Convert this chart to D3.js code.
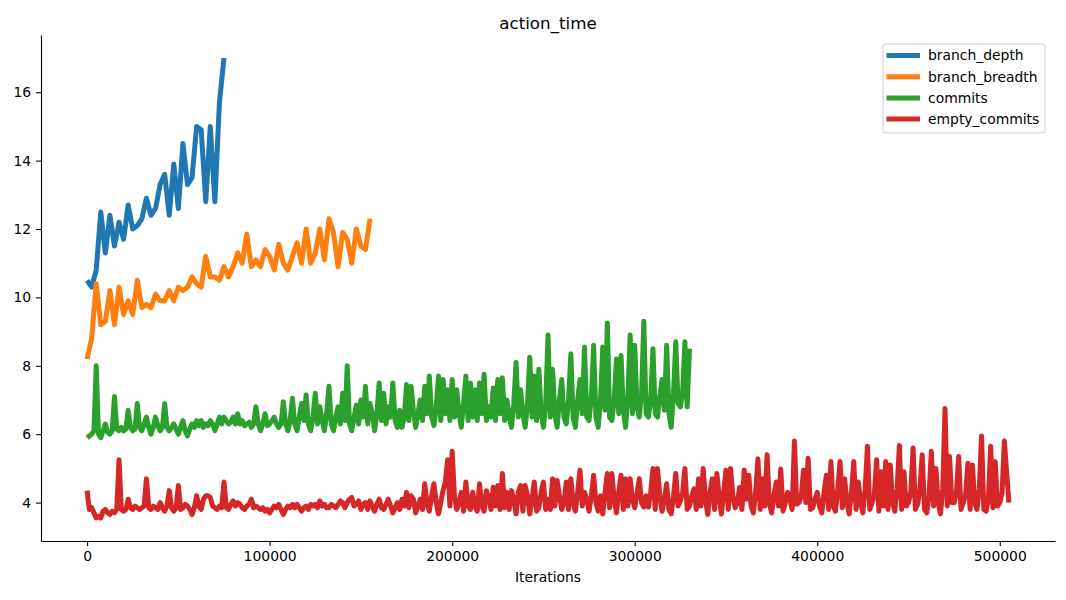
<!DOCTYPE html>
<html>
<head>
<meta charset="utf-8">
<script src="https://cdn.jsdelivr.net/npm/d3@7"></script>
<style>
  html, body { margin: 0; padding: 0; overflow: hidden; background: #fff; }
  svg { display: block; }
  text { font-family: 'DejaVu Sans', sans-serif; }
</style>
</head>
<body>
<div id="canvas"></div>
<script>
// canvas size
const height = 600;
const width = 1066;

const seriesNames = ['branch_depth', 'branch_breadth', 'commits', 'empty_commits'];
const seriesColors = ['#1f77b4', '#ff7f0e', '#2ca02c', '#d62728'];
// iterations between two logged points of each series
const seriesSteps = [2500, 2500, 1250, 1250];

const xTicks = [0, 100000, 200000, 300000, 400000, 500000];
const yTicks = [4, 6, 8, 10, 12, 14, 16];

// action_time values
const branchDepth = [
  10.5, 10.3, 10.8, 12.5, 11.3, 12.4, 11.5, 12.2, 11.7, 12.7,
  12.0, 12.1, 12.3, 12.9, 12.4, 12.6, 13.3, 13.6, 12.4, 13.9,
  12.6, 14.5, 13.3, 13.5, 15.0, 14.9, 12.8, 15.0, 12.8, 15.7,
  17.0
];

const branchBreadth = [
  8.2, 8.8, 10.4, 9.2, 9.3, 10.2, 9.2, 10.3, 9.5, 9.9,
  9.5, 10.5, 9.7, 9.8, 9.7, 10.1, 9.9, 9.9, 10.2, 9.9,
  10.3, 10.2, 10.3, 10.6, 10.4, 10.3, 11.2, 10.6, 10.6, 10.5,
  10.9, 10.6, 10.9, 11.3, 11.0, 11.85, 10.9, 11.1, 10.9, 11.4,
  11.2, 10.8, 11.55, 11.0, 10.8, 11.2, 11.6, 11.0, 12.0, 11.0,
  11.3, 12.0, 11.1, 12.3, 11.9, 10.9, 11.9, 11.7, 11.0, 12.0,
  11.5, 11.4, 12.3
];

const commits = [
  5.9, 5.95, 6.0, 6.1, 8.0, 6.0, 5.9, 6.1, 6.3, 6.05, 6.0, 6.1, 7.1, 6.15, 6.1, 6.2, 6.1, 6.15, 6.7, 6.2,
  6.1, 6.15, 6.9, 6.2, 6.1, 6.3, 6.5, 6.2, 6.0, 6.2, 6.5, 6.25, 6.1, 6.2, 6.9, 6.2, 6.1, 6.2, 6.3,
  6.15, 6.0, 6.2, 6.4, 6.1, 5.95, 6.15, 6.3, 6.2, 6.4, 6.25, 6.4, 6.2, 6.3, 6.25, 6.4, 6.3, 6.1, 6.3, 6.5,
  6.3, 6.5, 6.4, 6.3, 6.35, 6.5, 6.3, 6.6, 6.3, 6.4, 6.25, 6.3, 6.35, 6.2, 6.3, 6.8, 6.3, 6.1, 6.3, 6.6,
  6.25, 6.3, 6.4, 6.5, 6.3, 6.2, 6.3, 6.95, 6.3, 6.1, 6.4, 7.05, 6.3, 6.1, 6.5, 6.9, 6.4, 7.15, 6.3, 6.1,
  6.5, 7.2, 6.3, 6.8, 6.4, 6.1, 6.6, 7.4, 6.3, 6.1, 6.5, 6.8, 6.3, 7.2, 6.4, 8.0, 6.3, 6.1, 6.5, 6.85,
  6.3, 7.0, 6.5, 7.4, 6.3, 6.9, 6.6, 6.1, 6.6, 7.5, 6.4, 7.2, 6.3, 6.8, 6.5, 7.5, 6.4, 6.2, 6.7, 6.2,
  6.5, 7.45, 6.4, 7.4, 6.7, 6.2, 6.6, 7.0, 6.4, 7.4, 6.6, 7.7, 6.5, 6.25, 6.8, 7.7, 6.4, 7.6, 6.6, 7.3,
  6.4, 7.6, 6.5, 7.3, 6.6, 6.2, 6.9, 7.7, 6.4, 7.5, 6.5, 7.3, 6.4, 7.5, 6.6, 7.75, 6.4, 6.8, 6.5, 7.35,
  6.4, 7.6, 6.6, 7.65, 6.4, 7.0, 6.5, 6.2, 6.9, 8.1, 6.5, 7.3, 6.6, 6.2, 6.9, 8.25, 6.5, 7.7, 6.4, 7.9,
  6.6, 6.2, 6.9, 8.9, 6.5, 7.9, 6.6, 6.2, 7.0, 7.6, 6.5, 6.3, 7.0, 8.35, 6.5, 6.2, 7.0, 7.6, 6.6, 8.55,
  6.5, 6.4, 7.1, 8.6, 6.5, 6.2, 7.0, 8.55, 6.7, 9.25, 6.5, 6.4, 7.0, 8.2, 6.6, 8.3, 6.7, 6.2, 7.1, 8.9,
  6.6, 8.6, 6.8, 6.5, 7.2, 9.3, 6.6, 6.5, 7.0, 8.5, 6.6, 6.5, 7.1, 7.6, 6.7, 8.6, 6.6, 6.2, 7.2, 8.7,
  6.9, 6.8, 7.2, 8.7, 6.8, 8.5
];

const emptyCommits = [
  4.35, 3.8, 3.85, 3.7, 3.55, 3.6, 3.55, 3.75, 3.8, 3.7, 3.65, 3.75, 3.7, 3.8, 5.25, 3.8, 3.75, 3.8, 4.1, 3.85,
  3.8, 3.9, 3.85, 3.8, 3.85, 3.9, 4.7, 3.85, 3.8, 3.9, 3.85, 3.8, 4.0, 3.85, 3.75, 3.9, 4.35, 3.85, 3.75, 3.85,
  4.5, 3.8, 3.85, 3.95, 3.9, 3.8, 3.65, 3.85, 4.2, 3.9, 3.8, 4.1, 4.2, 4.2, 4.15, 3.9, 3.85, 3.8, 3.9, 3.85,
  4.6, 3.85, 3.8, 3.95, 4.05, 3.9, 4.0, 3.95, 3.85, 3.8, 3.9, 3.95, 4.1, 3.85, 3.9, 3.85, 3.8, 3.85, 3.75, 3.8,
  3.7, 3.8, 3.9, 3.85, 3.95, 3.8, 3.65, 3.8, 3.9, 3.85, 3.95, 3.85, 3.95, 3.85, 3.75, 3.85, 3.9, 3.8, 3.95, 3.9,
  3.95, 3.85, 4.05, 3.9, 3.95, 3.85, 3.85, 3.95, 3.9, 3.85, 3.95, 4.05, 4.0, 3.85, 4.0, 4.1, 4.15, 3.9, 3.95, 4.05,
  3.8, 3.95, 4.0, 3.8, 4.05, 3.9, 3.75, 3.95, 4.1, 3.85, 3.8, 3.95, 4.1, 3.9, 3.7, 3.85, 4.0, 3.8, 4.1, 3.9,
  4.3, 3.85, 4.2, 4.1, 3.7, 3.9, 4.1, 3.8, 4.55, 3.95, 3.75, 4.2, 4.55, 4.0, 3.67, 4.0, 4.35, 4.6, 5.25, 3.9,
  5.5, 4.2, 3.8, 4.0, 4.3, 3.75, 4.6, 3.9, 3.8, 4.3, 3.9, 3.75, 4.55, 3.9, 3.75, 4.35, 4.15, 3.8, 4.45, 3.9,
  4.5, 3.8, 4.85, 3.85, 4.3, 3.8, 4.35, 4.1, 3.67, 4.3, 4.5, 3.75, 4.5, 4.2, 3.67, 4.1, 4.6, 3.75, 3.85, 4.3,
  4.6, 3.8, 4.1, 3.8, 4.7, 3.9, 4.65, 4.2, 3.8, 4.0, 4.6, 3.8, 4.7, 4.0, 3.75, 4.3, 4.95, 3.9, 4.3, 4.1,
  3.75, 4.2, 4.8, 4.0, 3.75, 4.2, 3.67, 4.3, 4.85, 3.85, 4.85, 4.1, 3.7, 4.3, 4.8, 3.8, 4.7, 3.9, 4.7, 4.1,
  3.85, 4.25, 4.7, 4.0, 3.87, 4.2, 3.87, 4.3, 5.0, 3.8, 5.0, 4.2, 3.75, 4.1, 4.55, 3.8, 3.67, 4.2, 4.85, 3.9,
  4.05, 4.3, 5.0, 3.8, 3.9, 4.2, 4.4, 3.8, 4.7, 3.9, 5.0, 4.1, 3.65, 4.3, 4.7, 3.8, 4.85, 4.2, 3.67, 4.3,
  4.95, 3.8, 5.0, 4.2, 3.85, 4.0, 4.45, 3.8, 4.95, 4.1, 4.8, 3.9, 3.7, 4.3, 5.28, 3.8, 4.7, 3.9, 5.4, 4.0,
  3.7, 4.2, 4.6, 3.9, 4.98, 3.75, 4.0, 4.3, 4.1, 3.8, 5.8, 3.95, 4.0, 4.2, 4.95, 4.0, 5.3, 3.8, 3.85, 4.1,
  4.3, 3.9, 3.7, 4.3, 4.8, 3.8, 5.2, 3.9, 3.75, 4.4, 5.2, 3.85, 4.7, 4.0, 3.67, 4.3, 5.2, 3.8, 4.6, 4.0,
  3.7, 4.4, 5.65, 3.8, 4.0, 4.2, 5.25, 3.75, 4.9, 3.9, 5.2, 3.8, 5.1, 4.0, 3.75, 4.4, 5.67, 3.8, 4.9, 3.9,
  4.0, 4.3, 5.6, 3.8, 3.95, 4.4, 5.4, 3.8, 3.7, 4.2, 5.5, 3.9, 5.0, 4.0, 3.67, 4.4, 6.75, 3.9, 5.35, 4.0,
  4.0, 4.3, 5.35, 3.8, 4.0, 4.2, 5.15, 3.8, 5.1, 4.0, 3.8, 4.4, 5.95, 3.8, 3.75, 4.1, 5.65, 3.85, 5.2, 3.9,
  4.0, 4.3, 5.8, 4.9, 4.0
];

const seriesValues = [branchDepth, branchBreadth, commits, emptyCommits];

// pair every value with its iteration count
const lines = seriesNames.map((name, k) => ({
  name: name,
  color: seriesColors[k],
  points: seriesValues[k].map((v, i) => [i * seriesSteps[k], v])
}));

const canvas = d3.select('#canvas')
  .append('svg')
  .attr('width', width)
  .attr('height', height)
  .style('background-color', '#ffffff');

// plot box, same as matplotlib's default axes
const margin = { top: 35, right: 11, bottom: 59, left: 41 };
const innerWidth = width - margin.left - margin.right;
const innerHeight = height - margin.top - margin.bottom;

// 5% padding around the data like matplotlib autoscale
const allPoints = lines.flatMap(l => l.points);
const xExt = d3.extent(allPoints, d => d[0]);
const yExt = d3.extent(allPoints, d => d[1]);
const xPad = (xExt[1] - xExt[0]) * 0.05;
const yPad = (yExt[1] - yExt[0]) * 0.05;

const xScale = d3.scaleLinear()
  .domain([xExt[0] - xPad, xExt[1] + xPad])
  .range([0, innerWidth]);

const yScale = d3.scaleLinear()
  .domain([yExt[0] - yPad, yExt[1] + yPad])
  .range([innerHeight, 0]);

const g = canvas.append('g')
  .attr('transform', `translate(${margin.left},${margin.top})`);

// data lines
const lineGen = d3.line()
  .x(d => xScale(d[0]))
  .y(d => yScale(d[1]));

g.selectAll('path.series')
  .data(lines)
  .enter().append('path')
    .attr('class', 'series')
    .attr('fill', 'none')
    .attr('stroke', d => d.color)
    .attr('stroke-width', 5)
    .attr('stroke-linejoin', 'round')
    .attr('stroke-linecap', 'butt')
    .attr('d', d => lineGen(d.points));

// axes
const xAxis = g.append('g')
  .attr('transform', `translate(0,${innerHeight})`)
  .call(d3.axisBottom(xScale).tickValues(xTicks).tickFormat(d3.format('d')).tickSizeInner(4.9).tickSizeOuter(0).tickPadding(4.9));

const yAxis = g.append('g')
  .call(d3.axisLeft(yScale).tickValues(yTicks).tickFormat(d3.format('d')).tickSizeInner(4.9).tickSizeOuter(0).tickPadding(4.9));

[xAxis, yAxis].forEach(ax => {
  ax.select('.domain').attr('stroke', '#000').attr('stroke-width', 1.1);
  ax.selectAll('.tick line').attr('stroke', '#000').attr('stroke-width', 1.1);
  ax.selectAll('.tick text')
    .attr('fill', '#000')
    .style('font-size', '13.9px')
    .style('font-family', "'DejaVu Sans', sans-serif");
});

// title and axis label
canvas.append('text')
  .attr('x', margin.left + innerWidth / 2)
  .attr('y', 29)
  .attr('text-anchor', 'middle')
  .style('font-size', '16.7px')
  .text('action_time');

canvas.append('text')
  .attr('x', margin.left + innerWidth / 2)
  .attr('y', 582)
  .attr('text-anchor', 'middle')
  .style('font-size', '13.9px')
  .text('Iterations');

// legend
const legend = canvas.append('g')
  .attr('transform', 'translate(883,44)');

legend.append('rect')
  .attr('width', 162)
  .attr('height', 89)
  .attr('rx', 3)
  .attr('fill', '#fff')
  .attr('fill-opacity', 0.8)
  .attr('stroke', '#cccccc')
  .attr('stroke-width', 1);

const item = legend.selectAll('g.item')
  .data(lines)
  .enter().append('g')
    .attr('class', 'item')
    .attr('transform', (d, i) => `translate(0,${11.5 + i * 21.2})`);

item.append('line')
  .attr('x1', 3.5)
  .attr('x2', 37)
  .attr('stroke', d => d.color)
  .attr('stroke-width', 5);

item.append('text')
  .attr('x', 45)
  .attr('dy', '0.35em')
  .style('font-size', '13.9px')
  .text(d => d.name);
</script>
</body>
</html>
